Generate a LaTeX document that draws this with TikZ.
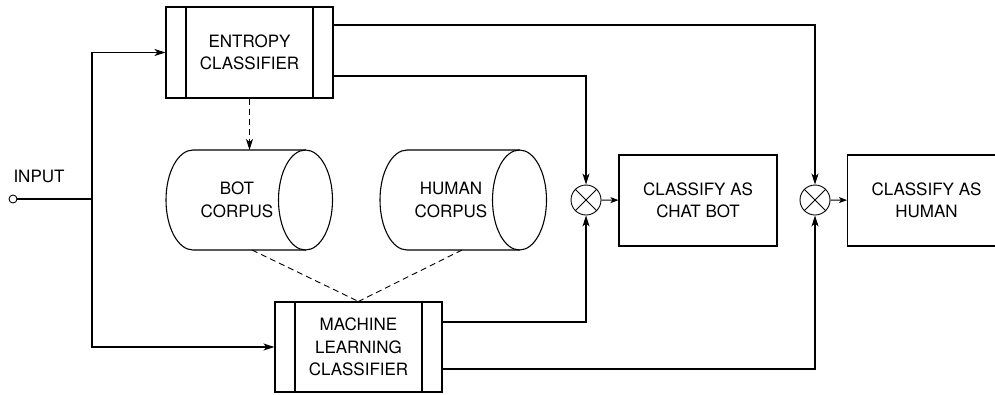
\documentclass[tikz,border=0pt]{standalone}
\usepackage{fontspec}
\setmainfont{TeX Gyre Heros}
\usetikzlibrary{arrows.meta}
\begin{document}
\begin{tikzpicture}[x=1pt,y=1pt,line width=1.1pt,
  >={Stealth[length=11pt,width=7pt,inset=3pt]},
  lbl/.style={font=\fontsize{17}{22.5}\selectfont,align=center,inner sep=0pt},
  clsbox/.style={draw,lbl,minimum width=167pt,minimum height=91pt,
    path picture={
      \draw ([xshift=20pt]path picture bounding box.north west) -- ([xshift=20pt]path picture bounding box.south west);
      \draw ([xshift=-20pt]path picture bounding box.north east) -- ([xshift=-20pt]path picture bounding box.south east);}},
  outbox/.style={draw,lbl,minimum width=158pt,minimum height=91pt},
  mult/.style={circle,draw,line width=0.9pt,minimum size=30pt,inner sep=0pt},
  thin dash/.style={dashed,line width=0.9pt,dash pattern=on 6pt off 4pt}]
\useasboundingbox (0,0) rectangle (995,-394);

% classifiers
\node[clsbox] (ent) at (249.5,-52.5) {ENTROPY\\CLASSIFIER};
\node[clsbox,minimum height=90pt] (ml) at (358.5,-347) {MACHINE\\LEARNING\\CLASSIFIER};

% corpora (horizontal cylinders)
\draw (305.5,-150) -- (193,-150) arc[start angle=90,end angle=270,x radius=27pt,y radius=50pt] -- (305.5,-250);
\draw (305.5,-200) ellipse [x radius=27pt,y radius=50pt];
\node[lbl] (bot) at (237,-200) {BOT\\CORPUS};
\coordinate (botN) at (249.5,-150);
\coordinate (botS) at (252,-250);

\draw (519.5,-150) -- (407,-150) arc[start angle=90,end angle=270,x radius=27pt,y radius=50pt] -- (519.5,-250);
\draw (519.5,-200) ellipse [x radius=27pt,y radius=50pt];
\node[lbl] (hum) at (451,-200) {HUMAN\\CORPUS};
\coordinate (humS) at (462,-250);

% combiners and decisions
\node[mult] (m1) at (586,-200) {};
\node[mult] (m2) at (815,-200) {};
\draw[line width=0.9pt] (m1.north west) -- (m1.south east) (m1.north east) -- (m1.south west);
\draw[line width=0.9pt] (m2.north west) -- (m2.south east) (m2.north east) -- (m2.south west);
\node[outbox] (cb) at (698,-200.5) {CLASSIFY AS\\CHAT BOT};
\node[outbox] (hu) at (926.5,-200.5) {CLASSIFY AS\\HUMAN};

% input
\node[circle,draw,line width=0.9pt,minimum size=8pt,inner sep=0pt] (in) at (13,-199) {};
\node[lbl] (inlbl) at (39,-176) {INPUT};
\coordinate (split) at (92,-199);
\draw (in) -- (split);
\draw[->] (split) |- (ent.west);
\draw[->] (split) |- (ml.west);

% corpus links
\draw[->,thin dash] (ent.south) -- (botN);
\draw[thin dash] (botS) -- (ml.north);
\draw[thin dash] (humS) -- (ml.north);

% classifier outputs
\draw[->] ([yshift=27.5pt]ent.east) -| (m2.north);
\draw[->] ([yshift=-23.5pt]ent.east) -| (m1.north);
\draw[->] ([yshift=25pt]ml.east) -| (m1.south);
\draw[->] ([yshift=-22pt]ml.east) -| (m2.south);
\draw[->,line width=0.9pt,>={Stealth[length=8pt,width=6pt,inset=2pt]}] (m1) -- (cb);
\draw[->,line width=0.9pt,>={Stealth[length=8pt,width=6pt,inset=2pt]}] (m2) -- (hu);
\end{tikzpicture}
\end{document}
